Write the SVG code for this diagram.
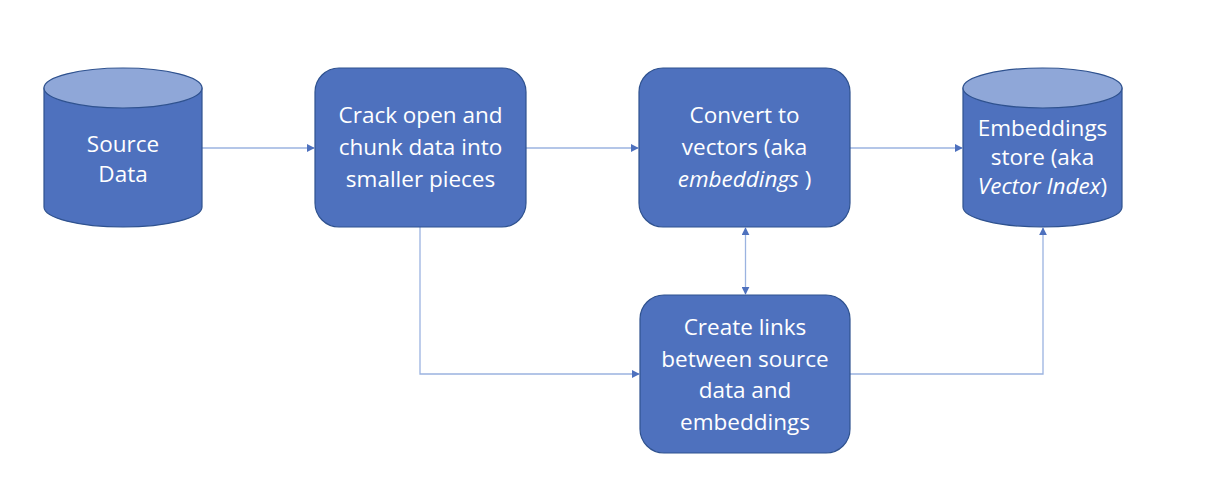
<svg xmlns="http://www.w3.org/2000/svg" width="1206" height="478" viewBox="0 0 1206 478">
<defs>
<style>
.node{fill:#4E71BE;stroke:#2F528F;stroke-width:1.2}
.top{fill:#8FA7D8;stroke:#2F528F;stroke-width:1.2}
.lbl{fill:#FFFFFF;font-family:"Open Sans","Noto Sans",sans-serif;font-size:22.5px;text-anchor:middle}
.conn{fill:none;stroke:#9BB3E0;stroke-width:1.3}
</style>
<marker id="ah" viewBox="0 0 10 10" refX="9" refY="5" markerWidth="8" markerHeight="8" markerUnits="userSpaceOnUse" orient="auto-start-reverse">
<path d="M0,0 L10,5 L0,10 z" fill="#4E71BE"/>
</marker>
</defs>
<rect width="1206" height="478" fill="#FFFFFF"/>
<g id="connectors">
<line class="conn" x1="202" y1="148" x2="314" y2="148" marker-end="url(#ah)"/>
<line class="conn" x1="526" y1="148" x2="638" y2="148" marker-end="url(#ah)"/>
<line class="conn" x1="850" y1="148" x2="962" y2="148" marker-end="url(#ah)"/>
<polyline class="conn" points="420,227 420,374 639,374" marker-end="url(#ah)"/>
<line class="conn" x1="745.5" y1="228" x2="745.5" y2="294" marker-start="url(#ah)" marker-end="url(#ah)"/>
<polyline class="conn" points="850,374 1043,374 1043,228" marker-end="url(#ah)"/>
</g>
<g id="source-data">
<path class="node" d="M44,88 L44,207 A79,20 0 0 0 202,207 L202,88 Z"/>
<ellipse class="top" cx="123" cy="88" rx="79" ry="20"/>
<text class="lbl" x="123" y="152" font-size="26">Source</text>
<text class="lbl" x="123" y="182" font-size="26">Data</text>
</g>
<g id="crack-chunk">
<rect class="node" x="315" y="68" width="211" height="159" rx="24"/>
<text class="lbl" x="420.5" y="123">Crack open and</text>
<text class="lbl" x="420.5" y="155">chunk data into</text>
<text class="lbl" x="420.5" y="187">smaller pieces</text>
</g>
<g id="convert-vectors">
<rect class="node" x="639" y="68" width="211" height="159" rx="24"/>
<text class="lbl" x="744.5" y="123">Convert to</text>
<text class="lbl" x="744.5" y="155">vectors (aka</text>
<text class="lbl" x="744.5" y="187"><tspan font-style="italic">embeddings</tspan> )</text>
</g>
<g id="embeddings-store">
<path class="node" d="M963,88 L963,207 A79.5,20 0 0 0 1122,207 L1122,88 Z"/>
<ellipse class="top" cx="1042.5" cy="88" rx="79.5" ry="20"/>
<text class="lbl" x="1042.5" y="136" font-size="19">Embeddings</text>
<text class="lbl" x="1042.5" y="165" font-size="19">store (aka</text>
<text class="lbl" x="1042.5" y="194" font-size="19"><tspan font-style="italic">Vector Index</tspan>)</text>
</g>
<g id="create-links">
<rect class="node" x="640" y="295" width="210" height="158" rx="24"/>
<text class="lbl" x="745" y="335">Create links</text>
<text class="lbl" x="745" y="367">between source</text>
<text class="lbl" x="745" y="398">data and</text>
<text class="lbl" x="745" y="430">embeddings</text>
</g>
</svg>
